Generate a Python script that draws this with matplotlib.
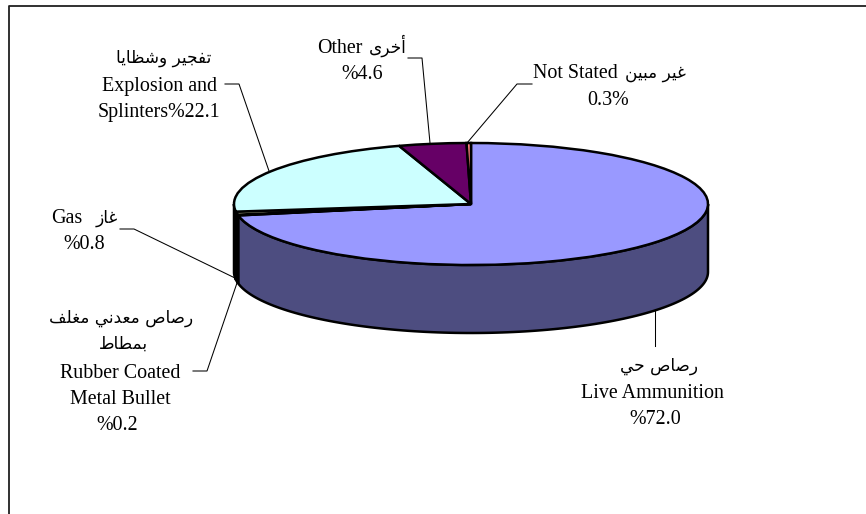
import numpy as np
import matplotlib
matplotlib.use("Agg")
import matplotlib.pyplot as plt
from matplotlib.lines import Line2D
from matplotlib.patches import Polygon

W, H = 866, 514

labels = ["Live Ammunition", "Rubber Coated Metal Bullet", "Gas",
          "Explosion and Splinters", "Other", "Not Stated"]
values = [72.0, 0.2, 0.8, 22.1, 4.6, 0.3]
top_colors = ["#9999FF", "#993366", "#FFFFCC", "#CCFFFF", "#660066", "#FF8080"]
side_colors = ["#4D4D80", "#4D1A33", "#808066", "#668080", "#330033", "#804040"]

# matplotlib does not join or reorder arabic, so pick the presentation forms here
DUAL = {"ب": 0xFE8F, "ت": 0xFE95, "ج": 0xFE9D, "ح": 0xFEA1, "خ": 0xFEA5, "ش": 0xFEB5,
        "ص": 0xFEB9, "ط": 0xFEC1, "ظ": 0xFEC5, "ع": 0xFEC9, "غ": 0xFECD, "ف": 0xFED1,
        "ل": 0xFEDD, "م": 0xFEE1, "ن": 0xFEE5, "ي": 0xFEF1}
RIGHT = {"ا": 0xFE8D, "أ": 0xFE83, "د": 0xFEA9, "ذ": 0xFEAB, "ر": 0xFEAD, "ز": 0xFEAF,
         "و": 0xFEED, "ى": 0xFEEF}


def ar(text):
    out = []
    for i, c in enumerate(text):
        if c not in DUAL and c not in RIGHT:
            out.append(c)
            continue
        before = i > 0 and text[i - 1] in DUAL
        after = i < len(text) - 1 and (text[i + 1] in DUAL or text[i + 1] in RIGHT)
        if c in RIGHT:
            out.append(chr(RIGHT[c] + (1 if before else 0)))
        elif before and after:
            out.append(chr(DUAL[c] + 3))
        elif after:
            out.append(chr(DUAL[c] + 2))
        elif before:
            out.append(chr(DUAL[c] + 1))
        else:
            out.append(chr(DUAL[c]))
    return "".join(reversed(out))


# pie centre and size on the page, in pixels
cx, cy, rx, ry, depth = 471, 204, 237, 61, 68

fig = plt.figure(figsize=(W / 100, H / 100), dpi=100, facecolor="white")
ax = fig.add_axes([0, 0, 1, 1])

ax.pie(values, colors=top_colors, startangle=90, counterclock=False, radius=1,
       wedgeprops={"edgecolor": "black", "linewidth": 1.8, "zorder": 5})
ax.set_aspect("auto")
ax.set_xlim(-cx / rx, (W - cx) / rx)
ax.set_ylim((cy - H) / ry, cy / ry)

# side wall, only the part under the front half of the ellipse shows
d = depth / ry
ends = 90 - np.cumsum([0] + values) * 3.6
for i in range(len(values)):
    a1 = min(ends[i], 0)
    a2 = max(ends[i + 1], -180)
    if a1 <= a2:
        continue
    t = np.radians(np.linspace(a1, a2, 120))
    x = np.cos(t)
    y = np.sin(t)
    pts = np.vstack([np.column_stack([x, y]), np.column_stack([x, y - d])[::-1]])
    ax.add_patch(Polygon(pts, closed=True, facecolor=side_colors[i], edgecolor="black",
                         linewidth=1.8, zorder=1))


def px(x, y):
    return x / W, 1 - y / H


def leader(xs, ys):
    fx, fy = px(np.array(xs, dtype=float), np.array(ys, dtype=float))
    fig.add_artist(Line2D(fx, fy, transform=fig.transFigure, color="black", linewidth=0.75))


def en(x, y, s):
    fx, fy = px(x, y + 1)
    fig.text(fx, fy, s, family="Liberation Serif", fontsize=14.4, color="black",
             ha="center", va="baseline")


def arab(x, y, s):
    fx, fy = px(x, y + 1)
    fig.text(fx, fy, ar(s), family="DejaVu Sans", fontsize=12.2, color="black",
             ha="center", va="baseline")


# chart frame, only top and left are inside the crop
fig.add_artist(Line2D(*px(np.array([8.5, 8.5, W]), np.array([H, 5.5, 5.5])),
                      transform=fig.transFigure, color="#202020", linewidth=1.3))

leader([225, 239, 269], [84, 84, 171])
leader([408, 422, 430], [58, 58, 143])
leader([532, 517, 467], [84, 84, 143])
leader([120, 134, 235], [229, 229, 278])
leader([193, 207, 238], [371, 371, 280])
leader([655, 655], [309, 346])

arab(164, 62, "تفجير وشظايا")
en(160, 90, "Explosion and")
en(159, 116, "Splinters%22.1")

en(340, 52, "Other")
arab(388, 52, "أخرى")
en(362, 78, "%4.6")

en(575, 77, "Not Stated")
arab(655, 77, "غير مبين")
en(608, 104, "0.3%")

en(67, 222, "Gas")
arab(107, 222, "غاز")
en(84, 248, "%0.8")

arab(121, 322, "رصاص معدني مغلف")
arab(123, 348, "بمطاط")
en(120, 377, "Rubber Coated")
en(120, 403, "Metal Bullet")
en(117, 429, "%0.2")

arab(659, 370, "رصاص حي")
en(652, 397, "Live Ammunition")
en(655, 423, "%72.0")

fig.savefig("out.png", dpi=100)
